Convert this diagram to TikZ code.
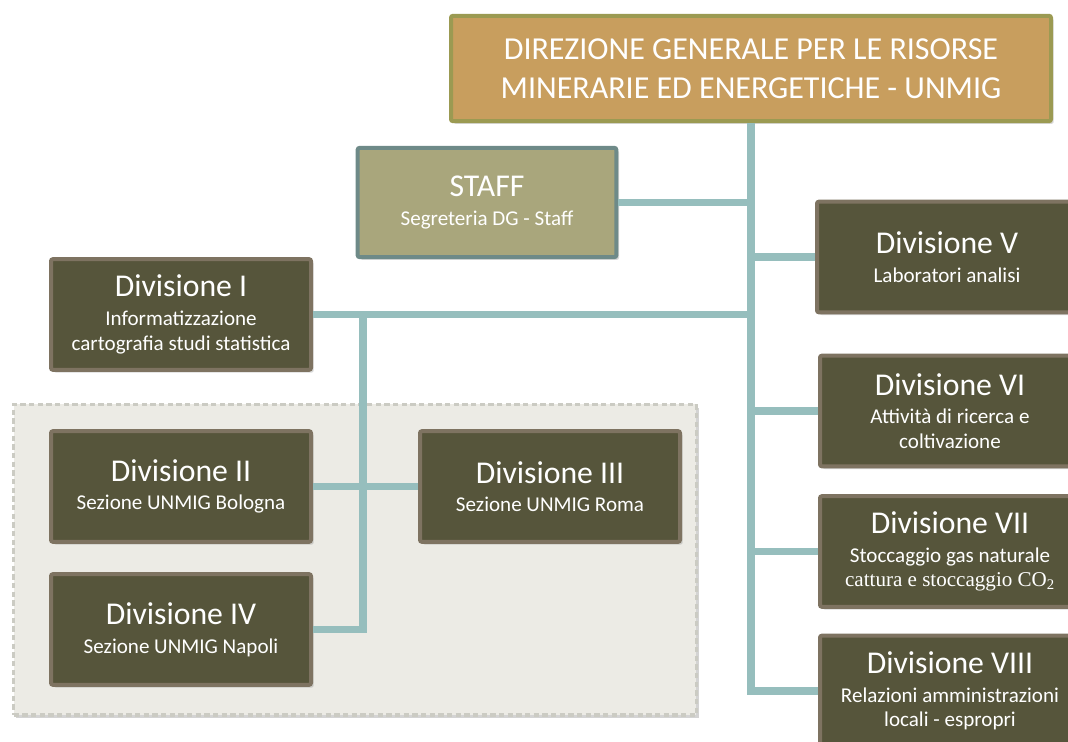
\documentclass[tikz,border=0pt]{standalone}
\usepackage{fontspec}
\setmainfont{Carlito}
\newfontfamily\timesfont{Liberation Serif}
\usetikzlibrary{shadows}
\definecolor{oro}{HTML}{C89E5E}
\definecolor{bordooro}{HTML}{9B9A52}
\definecolor{salvia}{HTML}{A9A67C}
\definecolor{bordosalvia}{HTML}{6E8A88}
\definecolor{oliva}{HTML}{56553B}
\definecolor{bordooliva}{HTML}{7E7361}
\definecolor{acqua}{HTML}{96BEBD}
\definecolor{sfondo}{HTML}{ECEBE5}
\definecolor{bordosfondo}{HTML}{CBCBC3}
\newcommand{\titolo}[1]{{\fontsize{23.8}{26}\selectfont #1}\\[3pt]}
\tikzstyle{direzione} = [rectangle, rounded corners = 1.5pt, draw = bordooro, fill = oro, line width = 3pt, minimum width = 450pt, minimum height = 79pt, text = white, align = center, font = \fontsize{24}{29}\selectfont, drop shadow = {opacity = 0.3, shadow xshift = 2pt, shadow yshift = -2pt}]
\tikzstyle{staffbox} = [rectangle, rounded corners = 1.5pt, draw = bordosalvia, fill = salvia, line width = 3pt, minimum width = 194pt, minimum height = 82pt, text = white, align = center, font = \fontsize{15.8}{18.5}\selectfont, drop shadow = {opacity = 0.3, shadow xshift = 2pt, shadow yshift = -2pt}]
\tikzstyle{divisione} = [rectangle, rounded corners = 1.5pt, draw = bordooliva, fill = oliva, line width = 3pt, minimum width = 195pt, minimum height = 83pt, text = white, align = center, font = \fontsize{15.8}{18.5}\selectfont, drop shadow = {opacity = 0.3, shadow xshift = 2pt, shadow yshift = -2pt}]
\tikzstyle{gruppo} = [rectangle, draw = bordosfondo, fill = sfondo, line width = 2.5pt, dash pattern = on 4pt off 2.5pt, minimum width = 512pt, minimum height = 233pt, drop shadow = {opacity = 0.35, shadow xshift = 2pt, shadow yshift = -2.5pt}]
\tikzstyle{linea} = [draw = acqua, line width = 5.5pt]

\begin{document}
\begin{tikzpicture}[x = 0.75pt, y = -0.75pt]
        \clip (0, 0) rectangle (1068, 742);
        \node (sedi) at (355, 559.5) [gruppo] {};
        \node (dg) at (751, 68.5) [direzione] {DIREZIONE GENERALE PER LE RISORSE\\MINERARIE ED ENERGETICHE - UNMIG};
        \node (staff) at (487, 202.5) [staffbox] {\titolo{STAFF}Segreteria DG - Staff};
        \node (d1) at (181, 314.5) [divisione] {\titolo{Divisione I}Informatizzazione\\cartografia studi statistica};
        \node (d2) at (181, 486.5) [divisione] {\titolo{Divisione II}Sezione UNMIG Bologna};
        \node (d3) at (550, 486.5) [divisione] {\titolo{Divisione III}Sezione UNMIG Roma};
        \node (d4) at (181, 629.5) [divisione] {\titolo{Divisione IV}Sezione UNMIG Napoli};
        \node (d5) at (947, 257) [divisione] {\titolo{Divisione V}Laboratori analisi};
        \node (d6) at (950, 411) [divisione] {\titolo{Divisione VI}Attività di ricerca e\\coltivazione};
        \node (d7) at (950, 551.5) [divisione] {\titolo{Divisione VII}Stoccaggio gas naturale\\{\timesfont cattura e stoccaggio CO\textsubscript{2}}};
        \node (d8) at (950, 691) [divisione] {\titolo{Divisione VIII}Relazioni amministrazioni\\locali - espropri};
        \coordinate (ramo) at (363, 314.5);
        \draw [linea] (dg.south) |- (d8.west);
        \draw [linea] (staff.east) -- (staff.east -| dg.south);
        \draw [linea] (d5.west) -- (d5.west -| dg.south);
        \draw [linea] (d1.east) -- (d1.east -| dg.south);
        \draw [linea] (d6.west) -- (d6.west -| dg.south);
        \draw [linea] (d7.west) -- (d7.west -| dg.south);
        \draw [linea] (ramo) |- (d4.east);
        \draw [linea] (d2.east) -- (d3.west);
    \end{tikzpicture}
\end{document}
